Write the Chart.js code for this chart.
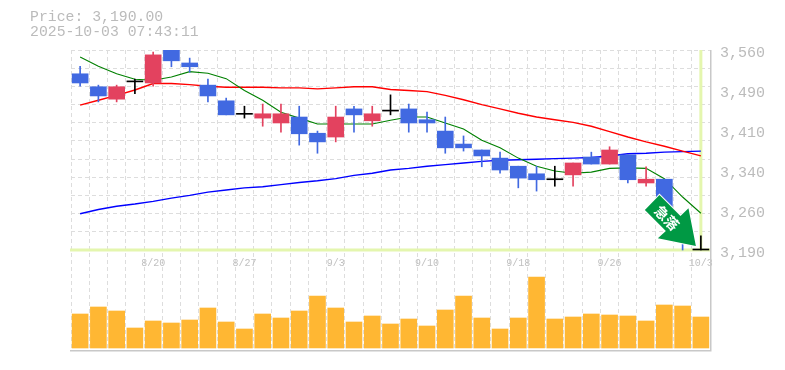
<!DOCTYPE html>
<html lang="ja">

<head>
    <meta charset="UTF-8">
    <title>Price chart</title>
    <script src="https://cdn.jsdelivr.net/npm/chart.js"></script>
    <style>
        body { margin: 0; background: #fff; }
        #wrap { position: relative; width: 785px; height: 370px; }
        #info { position: absolute; left: 30px; top: 10px; font: 14.8px/15px "Liberation Mono", monospace; color: #bbb; white-space: pre; }
    </style>
</head>

<body>
    <div id="wrap">
        <div id="info">Price: 3,190.00
2025-10-03 07:43:11</div>
        <canvas id="priceChart" width="785" height="370"></canvas>
    </div>

    <script>
        const days = ['8/14', '8/15', '8/18', '8/19', '8/20', '8/21', '8/22', '8/25', '8/26', '8/27', '8/28', '8/29',
            '9/1', '9/2', '9/3', '9/4', '9/5', '9/8', '9/9', '9/10', '9/11', '9/12', '9/16', '9/17', '9/18', '9/19',
            '9/22', '9/24', '9/25', '9/26', '9/29', '9/30', '10/1', '10/2', '10/3'];
        const shownDays = ['8/20', '8/27', '9/3', '9/10', '9/18', '9/26', '10/3'];

        const opens = [3516, 3492, 3469, 3501, 3499, 3560, 3536, 3495, 3466, 3441, 3434, 3425, 3436, 3406, 3399, 3451, 3429, 3447,
            3451, 3431, 3410, 3386, 3375, 3360, 3345, 3331, 3320, 3329, 3362, 3349, 3366, 3314, 3321, 3251, 3190];
        const closes = [3499, 3475, 3492, 3501, 3551, 3540, 3529, 3475, 3440, 3441, 3442, 3442, 3405, 3390, 3436, 3440, 3442, 3447,
            3425, 3425, 3379, 3379, 3364, 3338, 3323, 3320, 3320, 3351, 3349, 3375, 3320, 3321, 3255, 3208, 3190];
        const highs = [3530, 3495, 3495, 3506, 3556, 3560, 3545, 3506, 3471, 3456, 3460, 3460, 3456, 3410, 3456, 3456, 3456, 3477,
            3460, 3445, 3436, 3401, 3375, 3371, 3345, 3345, 3345, 3351, 3371, 3381, 3366, 3344, 3321, 3251, 3216];
        const lows = [3493, 3464, 3464, 3479, 3493, 3529, 3519, 3464, 3440, 3434, 3419, 3408, 3384, 3369, 3390, 3408, 3419, 3440,
            3408, 3408, 3369, 3373, 3344, 3332, 3305, 3299, 3308, 3308, 3349, 3349, 3314, 3308, 3250, 3190, 3190];

        const maShort = [3547, 3530, 3516, 3506, 3504, 3510, 3520, 3517, 3507, 3485, 3467, 3445, 3434, 3423, 3423, 3423, 3423, 3430,
            3436, 3436, 3425, 3414, 3393, 3379, 3360, 3345, 3336, 3332, 3334, 3341, 3342, 3341, 3322, 3288, 3258];
        const maMid = [3458, 3467, 3476, 3486, 3498, 3498, 3496, 3493, 3491, 3491, 3491, 3490, 3490, 3488, 3490, 3492, 3492, 3487,
            3485, 3483, 3476, 3468, 3459, 3451, 3443, 3436, 3431, 3426, 3419, 3409, 3399, 3390, 3382, 3373, 3364];
        const maLong = [3257, 3265, 3271, 3275, 3280, 3286, 3291, 3297, 3301, 3305, 3307, 3311, 3315, 3318, 3322, 3328, 3332, 3338,
            3341, 3345, 3348, 3351, 3354, 3356, 3357, 3358, 3359, 3360, 3361, 3364, 3368, 3369, 3371, 3372, 3373];

        const volumes = [34, 41, 37, 20, 27, 25, 28, 40, 26, 19, 34, 30, 37, 52, 40, 26, 32, 24,
            29, 22, 38, 52, 30, 19, 30, 71, 29, 31, 34, 33, 32, 27, 43, 42, 31];

        const gridPrices = [3560, 3526.4, 3492.7, 3459.1, 3425.5, 3391.8, 3358.2, 3324.5, 3290.9, 3257.3, 3223.6, 3190];
        const axisPrices = [3560, 3486, 3412, 3338, 3264, 3190];
        const axisLabels = ['3,560', '3,490', '3,410', '3,340', '3,260', '3,190'];
        const lastPrice = 3190;

        const UP = '#e3425f', DOWN = '#4169e1', FLAT = '#000';
        const candleColors = opens.map((o, i) => closes[i] > o ? UP : closes[i] < o ? DOWN : FLAT);

        function lineSet(data, color, width) {
            return { type: 'line', data: data, borderColor: color, borderWidth: width, pointRadius: 0, tension: 0, yAxisID: 'y', order: 3 };
        }

        // frame, last price lines and the signal arrow are drawn around the datasets
        const extras = {
            id: 'extras',
            beforeDatasetsDraw(chart) {
                const { ctx, chartArea: a, scales } = chart;
                const py = scales.y.getPixelForValue(lastPrice);
                const lx = scales.x.getPixelForValue(days.length - 1);
                ctx.save();
                ctx.fillStyle = '#e4f6ae';
                ctx.fillRect(a.left - 1, py - 1.5, a.width + 1, 3);
                ctx.fillRect(lx - 1.5, a.top, 3, py - a.top);
                ctx.fillStyle = '#c8c8c8';
                ctx.fillRect(a.right, a.top, 1.5, a.height + 1.5);
                ctx.fillRect(a.left - 1, a.bottom, a.width + 1, 1.5);
                ctx.restore();
            },
            afterDatasetsDraw(chart) {
                const { ctx, scales } = chart;
                const tx = scales.x.getPixelForValue(days.length - 1) - 5;
                const ty = scales.y.getPixelForValue(lastPrice) - 4;
                const shape = [[-36.4, -51], [-51, -36], [-30, -15], [-38, -7.7], [0, 0], [-7.4, -37.7], [-15.4, -30]];
                ctx.save();
                ctx.translate(tx, ty);
                ctx.beginPath();
                shape.forEach((p, i) => i ? ctx.lineTo(p[0], p[1]) : ctx.moveTo(p[0], p[1]));
                ctx.closePath();
                ctx.lineJoin = 'miter';
                ctx.strokeStyle = '#fff';
                ctx.lineWidth = 2;
                ctx.stroke();
                ctx.fillStyle = '#009944';
                ctx.fill();
                ctx.translate(-29, -28);
                ctx.rotate(Math.PI / 4);
                ctx.fillStyle = '#fff';
                ctx.font = 'bold 14px "Noto Sans CJK JP"';
                ctx.textAlign = 'center';
                ctx.textBaseline = 'middle';
                ctx.fillText('急落', 0, 0);
                ctx.restore();
            }
        };

        new Chart(document.getElementById('priceChart'), {
            type: 'bar',
            plugins: [extras],
            data: {
                labels: days,
                datasets: [
                    { data: opens.map((o, i) => [o, closes[i]]), backgroundColor: candleColors, barThickness: 16, minBarLength: 1, grouped: false, yAxisID: 'y', order: 1 },
                    { data: lows.map((l, i) => [l, highs[i]]), backgroundColor: candleColors, barThickness: 1, grouped: false, yAxisID: 'y', order: 2 },
                    lineSet(maShort, '#008000', 1.1),
                    lineSet(maMid, '#ff0000', 1.4),
                    lineSet(maLong, '#0000ff', 1.4),
                    { data: volumes, backgroundColor: '#ffb733', barThickness: 16, grouped: false, yAxisID: 'yVol', order: 4 }
                ]
            },
            options: {
                responsive: false,
                animation: false,
                layout: { padding: { left: 71, top: 50, bottom: 20 } },
                plugins: { legend: { display: false }, tooltip: { enabled: false } },
                scales: {
                    x: {
                        position: { y: lastPrice },
                        offset: true,
                        grid: { offset: true, color: '#ddd', lineWidth: 1, drawTicks: false },
                        border: { display: false, dash: [4, 3] },
                        ticks: {
                            autoSkip: false,
                            maxRotation: 0,
                            padding: 7,
                            color: '#c0c0c0',
                            font: { family: '"Liberation Mono"', size: 10 },
                            callback(v) { return shownDays.includes(days[v]) ? days[v] : ''; }
                        }
                    },
                    y: {
                        position: 'left',
                        min: 3005,
                        max: 3560,
                        afterBuildTicks(s) { s.ticks = gridPrices.map(v => ({ value: v })); },
                        afterFit(s) { s.width = 0; },
                        grid: { color: '#ddd', lineWidth: 1, drawTicks: false },
                        border: { display: false, dash: [4, 3] },
                        ticks: { display: false }
                    },
                    yLabels: {
                        position: 'right',
                        min: 3005,
                        max: 3560,
                        afterBuildTicks(s) { s.ticks = axisPrices.map(v => ({ value: v })); },
                        afterFit(s) { s.width = 75; },
                        grid: { display: false, drawTicks: false },
                        border: { display: false },
                        ticks: {
                            padding: 10,
                            labelOffset: 3,
                            color: '#bbb',
                            font: { family: '"Liberation Mono"', size: 15 },
                            callback(v) { return axisLabels[axisPrices.indexOf(v)]; }
                        }
                    },
                    yVol: { display: false, min: -2, max: 298 }
                }
            }
        });
    </script>
</body>

</html>
